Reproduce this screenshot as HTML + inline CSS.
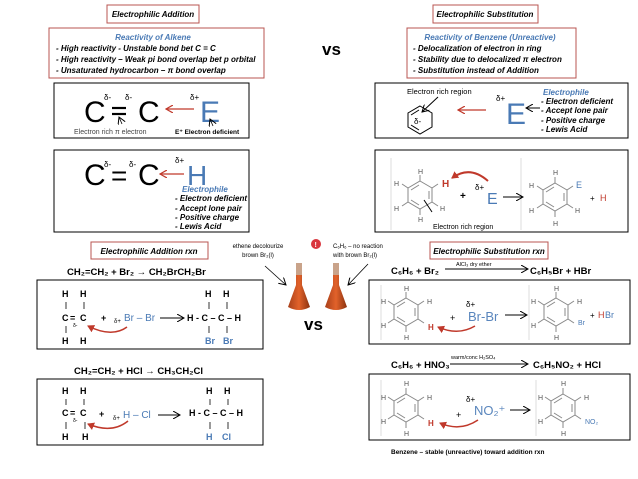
<!DOCTYPE html>
<html><head><meta charset="utf-8"><style>
body{margin:0;background:#fff}
svg{display:block}
text{font-family:"Liberation Sans",sans-serif}
.it{font-style:italic;font-weight:bold;font-size:8px}
.lb{fill:#4a7ab5}
.bd{font-weight:bold}
.g{fill:#555;font-size:7px}
</style></head><body>
<svg width="638" height="479" viewBox="0 0 638 479" xmlns="http://www.w3.org/2000/svg">
<defs>
<marker id="ak" markerWidth="8" markerHeight="8" refX="7" refY="4" orient="auto" markerUnits="userSpaceOnUse"><path d="M0,0 L7,4 L0,8" fill="none" stroke="#000" stroke-width="1"/></marker>
<marker id="ar" markerWidth="8" markerHeight="8" refX="7" refY="4" orient="auto" markerUnits="userSpaceOnUse"><path d="M0,0 L7,4 L0,8" fill="none" stroke="#c0392b" stroke-width="1.2"/></marker>
<marker id="arf" markerWidth="8" markerHeight="8" refX="6" refY="4" orient="auto" markerUnits="userSpaceOnUse"><path d="M0,0 L7,4 L0,8z" fill="#c0392b"/></marker>
<g id="hex"><polygon points="0,-14 12,-7 12,7 0,14 -12,7 -12,-7" fill="none" stroke="#888" stroke-width="1"/><line x1="0" y1="-14" x2="0" y2="-20" stroke="#888"/><line x1="0" y1="14" x2="0" y2="20" stroke="#888"/><line x1="12" y1="-7" x2="18" y2="-11" stroke="#888"/><line x1="-12" y1="-7" x2="-18" y2="-11" stroke="#888"/><line x1="-12" y1="7" x2="-18" y2="11" stroke="#888"/><line x1="12" y1="7" x2="18" y2="11" stroke="#888"/><line x1="-9" y1="-5" x2="-1" y2="-10" stroke="#888"/><line x1="9" y1="-4" x2="9" y2="4" stroke="#888"/><line x1="-1" y1="10" x2="-9" y2="5" stroke="#888"/></g>
<linearGradient id="fl" x1="0" y1="0" x2="1" y2="0"><stop offset="0" stop-color="#a8401a"/><stop offset=".5" stop-color="#e2622a"/><stop offset="1" stop-color="#8a3210"/></linearGradient>
<g id="flask"><rect x="-3" y="0" width="6" height="14" fill="#c9a38a"/><path d="M-3,12 L-3,22 L-11,44 Q0,50 11,44 L3,22 L3,12z" fill="url(#fl)"/></g>
</defs>

<rect x="107" y="5" width="92" height="18" fill="none" stroke="#b85450" stroke-width="1"/>
<text x="153" y="17" text-anchor="middle" class="it">Electrophilic Addition</text>
<rect x="49" y="28" width="215" height="50" fill="none" stroke="#b85450" stroke-width="1"/>
<text x="153" y="40" text-anchor="middle" class="it lb">Reactivity of Alkene</text>
<text x="56" y="51" class="it">- High reactivity - Unstable bond bet C = C</text>
<text x="56" y="62" class="it">- High reactivity – Weak pi bond overlap bet p orbital</text>
<text x="56" y="73" class="it">- Unsaturated hydrocarbon – π bond overlap</text>

<rect x="54" y="83" width="195" height="55" fill="none" stroke="#000"/>
<text x="84" y="122" font-size="30">C</text><text x="104" y="100" font-size="8">δ-</text>
<line x1="112" y1="108" x2="126" y2="108" stroke="#000" stroke-width="2.2"/>
<line x1="112" y1="114" x2="126" y2="114" stroke="#000" stroke-width="2.2"/>
<line x1="122" y1="124" x2="119" y2="117" stroke="#000" stroke-width=".8" marker-end="url(#ak)"/>
<text x="125" y="100" font-size="8">δ-</text>
<text x="138" y="122" font-size="30">C</text>
<line x1="194" y1="109" x2="166" y2="109" stroke="#c0392b" stroke-width="1.2" marker-end="url(#ar)"/>
<text x="190" y="100" font-size="8">δ+</text>
<text x="200" y="122" font-size="30" class="lb">E</text>
<line x1="213" y1="126" x2="210" y2="119" stroke="#000" stroke-width=".8" marker-end="url(#ak)"/>
<text x="74" y="134" font-size="7" fill="#444">Electron rich  π electron</text>
<text x="175" y="134" font-size="6.5" font-weight="bold">E⁺ Electron  deficient</text>

<rect x="54" y="150" width="195" height="82" fill="none" stroke="#000"/>
<text x="84" y="185" font-size="30">C</text><text x="104" y="167" font-size="8">δ-</text>
<text x="111" y="185" font-size="28">=</text><text x="129" y="167" font-size="8">δ-</text>
<text x="138" y="185" font-size="30">C</text>
<line x1="184" y1="174" x2="160" y2="174" stroke="#c0392b" stroke-width="1.2" marker-end="url(#ar)"/>
<text x="175" y="163" font-size="8">δ+</text>
<text x="187" y="185" font-size="28" class="lb">H</text>
<text x="182" y="192" class="it lb" font-size="7" font-weight="normal">Electrophile</text>
<text x="175" y="201" class="it" font-size="7">- Electron deficient</text>
<text x="175" y="211" class="it" font-size="7">- Accept lone pair</text>
<text x="175" y="220" class="it" font-size="7">- Positive charge</text>
<text x="175" y="229" class="it" font-size="7">- Lewis Acid</text>

<text x="322" y="55" font-size="17" class="bd">vs</text>

<rect x="433" y="5" width="105" height="18" fill="none" stroke="#b85450"/>
<text x="485" y="17" text-anchor="middle" class="it">Electrophilic Substitution</text>
<rect x="407" y="28" width="169" height="50" fill="none" stroke="#b85450"/>
<text x="490" y="40" text-anchor="middle" class="it lb">Reactivity of Benzene (Unreactive)</text>
<text x="413" y="51" class="it">- Delocalization of electron in ring</text>
<text x="413" y="62" class="it">- Stability due to delocalized π electron</text>
<text x="413" y="73" class="it">- Substitution instead of Addition</text>

<rect x="375" y="83" width="253" height="55" fill="none" stroke="#000"/>
<text x="407" y="94" font-size="7.5">Electron rich region</text>
<polygon points="420,106 432,113 432,127 420,134 408,127 408,113" fill="none" stroke="#000"/>
<line x1="411" y1="115" x2="419" y2="110" stroke="#000"/><line x1="419" y1="130" x2="411" y2="125" stroke="#000"/>
<text x="414" y="124" font-size="8">δ-</text>
<line x1="438" y1="97" x2="422" y2="112" stroke="#000" marker-end="url(#ak)"/>
<line x1="486" y1="110" x2="458" y2="110" stroke="#c0392b" stroke-width="1.2" marker-end="url(#ar)"/>
<text x="496" y="101" font-size="8">δ+</text>
<text x="506" y="124" font-size="30" class="lb">E</text>
<line x1="540" y1="108" x2="526" y2="108" stroke="#000" marker-end="url(#ak)"/>
<text x="543" y="95" class="it lb" font-size="7" font-weight="normal">Electrophile</text>
<text x="541" y="104" class="it" font-size="7">- Electron deficient</text>
<text x="541" y="113" class="it" font-size="7">- Accept lone pair</text>
<text x="541" y="123" class="it" font-size="7">- Positive charge</text>
<text x="541" y="132" class="it" font-size="7">- Lewis Acid</text>

<rect x="375" y="150" width="253" height="82" fill="none" stroke="#000"/>
<line x1="391" y1="158" x2="391" y2="230" stroke="#ddd"/><line x1="521" y1="158" x2="521" y2="230" stroke="#ddd"/>
<use href="#hex" x="420" y="195"/>
<text x="418" y="174" class="g">H</text><text x="394" y="186" class="g">H</text><text x="394" y="211" class="g">H</text><text x="440" y="211" class="g">H</text><text x="418" y="222" class="g">H</text>
<text x="442" y="187" font-size="10" fill="#c0392b" font-weight="bold">H</text>
<path d="M488,181 Q470,165 452,178" fill="none" stroke="#c0392b" stroke-width="2" marker-end="url(#arf)"/>
<text x="460" y="199" font-size="10" class="bd">+</text>
<text x="475" y="190" font-size="8">δ+</text>
<text x="487" y="204" font-size="16" class="lb">E</text>
<line x1="503" y1="197" x2="523" y2="197" stroke="#000" marker-end="url(#ak)"/>
<line x1="432" y1="212" x2="424" y2="200" stroke="#000"/>
<text x="433" y="229" font-size="7">Electron rich region</text>
<use href="#hex" x="555" y="197"/>
<text x="553" y="175" class="g">H</text><text x="529" y="188" class="g">H</text><text x="529" y="213" class="g">H</text><text x="575" y="213" class="g">H</text><text x="553" y="226" class="g">H</text>
<text x="576" y="188" font-size="9" class="lb">E</text>
<text x="590" y="201" font-size="8">+</text><text x="600" y="201" font-size="9" fill="#c0392b">H</text>

<rect x="91" y="242" width="117" height="17" fill="none" stroke="#b85450"/>
<text x="149" y="254" text-anchor="middle" class="it">Electrophilic Addition rxn</text>
<text x="67" y="275" font-size="9.5" class="bd">CH₂=CH₂ +  Br₂ → CH₂BrCH₂Br</text>
<rect x="37" y="280" width="226" height="69" fill="none" stroke="#000"/>
<g font-size="9" font-weight="bold">
<text x="62" y="297">H</text><text x="80" y="297">H</text>
<text x="62" y="321">C</text><text x="70" y="321">=</text><text x="80" y="321">C</text>
<text x="62" y="344">H</text><text x="80" y="344">H</text>
<text x="101" y="321">+</text>
<text x="187" y="321">H - C – C – H</text>
<text x="205" y="297">H</text><text x="223" y="297">H</text>
<text x="205" y="344" class="lb">Br</text><text x="223" y="344" class="lb">Br</text>
<text x="124" y="321" class="lb" font-weight="normal" font-size="10">Br  –  Br</text>
</g>
<text x="114" y="323" font-size="6">δ+</text><text x="73" y="327" font-size="5">δ-</text>
<g stroke="#000" stroke-width=".8"><line x1="66" y1="302" x2="66" y2="309"/><line x1="84" y1="302" x2="84" y2="309"/><line x1="66" y1="326" x2="66" y2="333"/><line x1="209" y1="302" x2="209" y2="309"/><line x1="227" y1="302" x2="227" y2="309"/><line x1="209" y1="326" x2="209" y2="333"/><line x1="227" y1="326" x2="227" y2="333"/></g>
<line x1="160" y1="318" x2="184" y2="318" stroke="#000" marker-end="url(#ak)"/>
<path d="M127,327 Q112,338 88,326" fill="none" stroke="#c0392b" stroke-width="1.5" marker-end="url(#arf)"/>

<text x="74" y="374" font-size="9.5" class="bd">CH₂=CH₂ +  HCl → CH₃CH₂Cl</text>
<rect x="37" y="379" width="226" height="66" fill="none" stroke="#000"/>
<g font-size="9" font-weight="bold">
<text x="62" y="394">H</text><text x="80" y="394">H</text>
<text x="62" y="416">C</text><text x="70" y="416">=</text><text x="80" y="416">C</text>
<text x="62" y="440">H</text><text x="82" y="440">H</text>
<text x="99" y="417">+</text>
<text x="189" y="416">H - C – C – H</text>
<text x="206" y="394">H</text><text x="224" y="394">H</text>
<text x="206" y="440" class="lb">H</text><text x="222" y="440" class="lb">Cl</text>
<text x="123" y="418" class="lb" font-weight="normal" font-size="10">H – Cl</text>
</g>
<text x="113" y="420" font-size="6">δ+</text><text x="73" y="422" font-size="5">δ-</text>
<g stroke="#000" stroke-width=".8"><line x1="66" y1="399" x2="66" y2="405"/><line x1="84" y1="399" x2="84" y2="405"/><line x1="66" y1="422" x2="66" y2="429"/><line x1="85" y1="422" x2="85" y2="429"/><line x1="210" y1="399" x2="210" y2="405"/><line x1="228" y1="399" x2="228" y2="405"/><line x1="210" y1="422" x2="210" y2="429"/><line x1="228" y1="422" x2="228" y2="429"/></g>
<line x1="158" y1="415" x2="180" y2="415" stroke="#000" marker-end="url(#ak)"/>
<path d="M128,421 Q112,434 88,424" fill="none" stroke="#c0392b" stroke-width="1.5" marker-end="url(#arf)"/>

<text x="258" y="248" font-size="6" text-anchor="middle">ethene decolourize</text>
<text x="258" y="257" font-size="6" text-anchor="middle">brown Br₂(l)</text>
<line x1="265" y1="266" x2="286" y2="285" stroke="#000" stroke-width=".8" marker-end="url(#ak)"/>
<circle cx="316" cy="244" r="5" fill="#d9363e"/><text x="314.5" y="247" font-size="7" fill="#fff" font-weight="bold">!</text>
<text x="333" y="248" font-size="6">C₆H₆ – no reaction</text>
<text x="333" y="257" font-size="6">with brown Br₂(l)</text>
<line x1="368" y1="264" x2="348" y2="285" stroke="#000" stroke-width=".8" marker-end="url(#ak)"/>
<use href="#flask" x="299" y="263"/>
<use href="#flask" x="336" y="263"/>
<text x="304" y="330" font-size="17" class="bd">vs</text>

<rect x="430" y="242" width="118" height="17" fill="none" stroke="#b85450"/>
<text x="489" y="254" text-anchor="middle" class="it">Electrophilic Substitution rxn</text>
<text x="391" y="274" font-size="9.5" class="bd">C₆H₆  + Br₂</text>
<line x1="445" y1="269" x2="528" y2="269" stroke="#000" marker-end="url(#ak)"/>
<text x="456" y="266" font-size="5.5">AlCl₃  dry ether</text>
<text x="530" y="274" font-size="9.5" class="bd">C₆H₅Br  + HBr</text>
<rect x="369" y="280" width="261" height="64" fill="none" stroke="#000"/>
<line x1="381" y1="285" x2="381" y2="340" stroke="#ddd"/><line x1="529" y1="285" x2="529" y2="340" stroke="#ddd"/>
<use href="#hex" x="406" y="312"/>
<text x="404" y="291" class="g">H</text><text x="381" y="304" class="g">H</text><text x="381" y="328" class="g">H</text><text x="427" y="304" class="g">H</text><text x="404" y="340" class="g">H</text>
<text x="428" y="330" font-size="8" fill="#c0392b" font-weight="bold">H</text>
<path d="M475,326 Q458,336 438,327" fill="none" stroke="#c0392b" stroke-width="1.5" marker-end="url(#arf)"/>
<text x="450" y="321" font-size="9">+</text>
<text x="466" y="307" font-size="8">δ+</text>
<text x="468" y="321" font-size="13" fill="#5a86bd">Br-Br</text>
<line x1="505" y1="315" x2="527" y2="315" stroke="#000" marker-end="url(#ak)"/>
<use href="#hex" x="556" y="312"/>
<text x="554" y="291" class="g">H</text><text x="531" y="304" class="g">H</text><text x="531" y="328" class="g">H</text><text x="577" y="304" class="g">H</text><text x="554" y="340" class="g">H</text>
<text x="578" y="325" font-size="7" class="lb">Br</text>
<text x="590" y="318" font-size="8">+</text><text x="598" y="318" font-size="9" fill="#c0392b">H</text><text x="605" y="318" font-size="9" class="lb">Br</text>

<text x="391" y="368" font-size="9.5" class="bd">C₆H₆ + HNO₃</text>
<line x1="450" y1="364" x2="528" y2="364" stroke="#000" marker-end="url(#ak)"/>
<text x="451" y="359" font-size="5.5">warm/conc H₂SO₄</text>
<text x="533" y="368" font-size="9.5" class="bd">C₆H₅NO₂ + HCl</text>
<rect x="369" y="374" width="261" height="66" fill="none" stroke="#000"/>
<line x1="381" y1="380" x2="381" y2="436" stroke="#ddd"/><line x1="536" y1="380" x2="536" y2="436" stroke="#ddd"/>
<use href="#hex" x="406" y="408"/>
<text x="404" y="386" class="g">H</text><text x="381" y="400" class="g">H</text><text x="381" y="424" class="g">H</text><text x="427" y="400" class="g">H</text><text x="404" y="436" class="g">H</text>
<text x="428" y="426" font-size="8" fill="#c0392b" font-weight="bold">H</text>
<path d="M478,420 Q460,432 440,423" fill="none" stroke="#c0392b" stroke-width="1.5" marker-end="url(#arf)"/>
<text x="456" y="418" font-size="9">+</text>
<text x="466" y="402" font-size="8">δ+</text>
<text x="474" y="415" font-size="13" fill="#5a86bd">NO₂⁺</text>
<line x1="510" y1="410" x2="530" y2="410" stroke="#000" marker-end="url(#ak)"/>
<use href="#hex" x="563" y="408"/>
<text x="561" y="386" class="g">H</text><text x="538" y="400" class="g">H</text><text x="538" y="424" class="g">H</text><text x="584" y="400" class="g">H</text><text x="561" y="436" class="g">H</text>
<text x="585" y="424" font-size="7" class="lb">NO₂</text>

<text x="391" y="454" font-size="6.5" font-weight="bold">Benzene – stable (unreactive) toward addition rxn</text>
</svg>
</body></html>
